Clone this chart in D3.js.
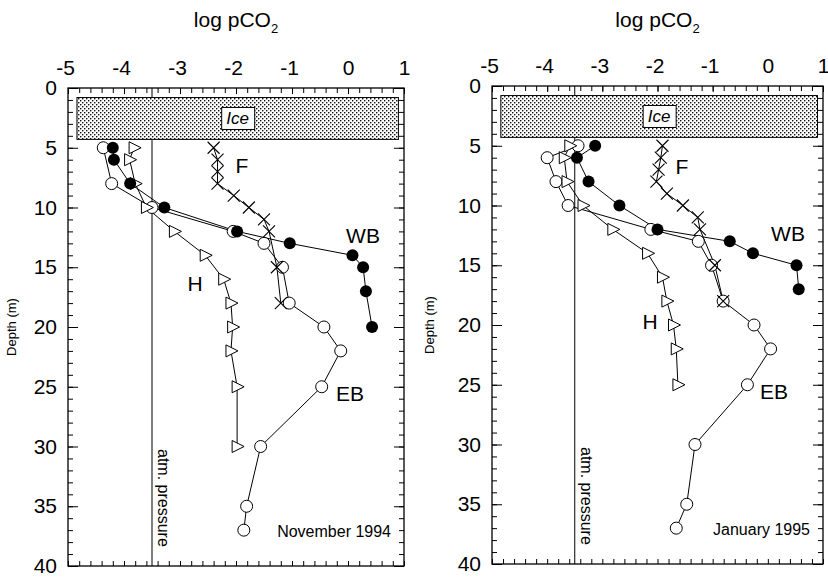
<!DOCTYPE html>
<html>
<head>
<meta charset="utf-8">
<script src="https://cdn.jsdelivr.net/npm/d3@7"></script>
<style>
  body { margin: 0; background: #fff; }
  svg { font-family: "Liberation Sans", Arial, sans-serif; }
</style>
</head>
<body>
<svg id="chart" width="828" height="577"></svg>
<script>
// November 1994
const novEBdepth = [5, 8, 10, 12, 13, 15, 18, 20, 22, 25, 30, 35, 37]
const novEBlog = [-4.37, -4.22, -3.50, -2.05, -1.50, -1.17, -1.05, -0.43, -0.13, -0.47, -1.56, -1.81, -1.86]
const novWBdepth = [5, 6, 8, 10, 12, 13, 14, 15, 17, 20]
const novWBlog = [-4.20, -4.18, -3.89, -3.28, -1.98, -1.04, 0.08, 0.27, 0.32, 0.43]
const novHdepth = [5, 6, 8, 10, 12, 14, 16, 18, 20, 22, 25, 30]
const novHlog = [-3.82, -3.90, -3.80, -3.60, -3.10, -2.55, -2.22, -2.09, -2.06, -2.09, -1.98, -1.98]
const novFdepth = [5, 6, 7, 8, 9, 10, 11, 12, 15, 18]
const novFlog = [-2.40, -2.33, -2.33, -2.33, -2.04, -1.77, -1.50, -1.41, -1.27, -1.20]

// January 1995
const janEBdepth = [5, 6, 8, 10, 12, 13, 15, 18, 20, 22, 25, 30, 35, 37]
const janEBlog = [-3.44, -4.00, -3.84, -3.62, -2.12, -1.26, -1.02, -0.81, -0.25, 0.05, -0.37, -1.32, -1.47, -1.66]
const janWBdepth = [5, 6, 8, 10, 12, 13, 14, 15, 17]
const janWBlog = [-3.13, -3.46, -3.25, -2.69, -2.00, -0.69, -0.27, 0.52, 0.56]
const janHdepth = [5, 6, 8, 10, 12, 14, 16, 18, 20, 22, 25]
const janHlog = [-3.59, -3.69, -3.64, -3.35, -2.81, -2.18, -1.91, -1.83, -1.71, -1.66, -1.63]
const janFdepth = [5, 6, 7, 8, 9, 10, 11, 12, 15, 18]
const janFlog = [-1.91, -1.94, -1.98, -2.02, -1.83, -1.54, -1.27, -1.23, -0.96, -0.81]

const xTicks = [-5, -4, -3, -2, -1, 0, 1]
const yTicks = [0, 5, 10, 15, 20, 25, 30, 35, 40]
const atmLog = -3.5
const iceTop = 0.8, iceBottom = 4.3, iceLeft = -4.84, iceRight = 0.9

const svg = d3.select('#chart')

// stipple for the ice layer
const pat = svg.append('defs').append('pattern')
    .attr('id', 'ice')
    .attr('patternUnits', 'userSpaceOnUse')
    .attr('width', 4)
    .attr('height', 4)
pat.append('rect').attr('width', 4).attr('height', 4).attr('fill', '#fff')
pat.append('rect').attr('x', 0).attr('y', 0).attr('width', 1.4).attr('height', 1.4).attr('fill', '#111')
pat.append('rect').attr('x', 2).attr('y', 2).attr('width', 1.4).attr('height', 1.4).attr('fill', '#111')

const zip = (d, v) => d.map((dd, i) => ({depth: dd, val: v[i]}))

const drawPanel = (p) => {
    const x = d3.scaleLinear().domain([-5, 1]).range([p.left, p.right])
    const y = d3.scaleLinear().domain([0, 40]).range([p.top, p.bottom])
    const g = svg.append('g')

    // atm. pressure line
    g.append('line')
        .attr('x1', x(atmLog)).attr('x2', x(atmLog))
        .attr('y1', y(0)).attr('y2', y(40))
        .attr('stroke', '#000').attr('stroke-width', 1)

    // ice
    g.append('rect')
        .attr('x', x(iceLeft)).attr('y', y(iceTop))
        .attr('width', x(iceRight) - x(iceLeft))
        .attr('height', y(iceBottom) - y(iceTop))
        .attr('fill', 'url(#ice)')
        .attr('stroke', '#000').attr('stroke-width', 1)
    const ix = (x(iceLeft) + x(iceRight)) / 2
    g.append('rect')
        .attr('x', ix - 16).attr('y', y(2.55) - 11)
        .attr('width', 33).attr('height', 22)
        .attr('fill', '#fff').attr('stroke', '#000').attr('stroke-width', 1)
    g.append('text')
        .attr('x', ix).attr('y', y(2.55) + 6)
        .attr('text-anchor', 'middle')
        .attr('font-size', '17px')
        .attr('font-style', 'italic')
        .text('Ice')

    // frame + axes (ticks inward)
    g.append('rect')
        .attr('x', p.left).attr('y', p.top)
        .attr('width', p.right - p.left).attr('height', p.bottom - p.top)
        .attr('fill', 'none').attr('stroke', '#000').attr('stroke-width', 1.3)

    const minorX = d3.range(-5, 1.001, 0.2)
    const minorY = d3.range(0, 40.001, 1)

    const topMinor = g.append('g').attr('transform', `translate(0,${p.top})`)
        .call(d3.axisTop(x).tickValues(minorX).tickSize(-5).tickFormat(''))
    const topMajor = g.append('g').attr('transform', `translate(0,${p.top})`)
        .call(d3.axisTop(x).tickValues(xTicks).tickSize(-6).tickFormat(d => String(d)))
    const botMinor = g.append('g').attr('transform', `translate(0,${p.bottom})`)
        .call(d3.axisBottom(x).tickValues(minorX).tickSize(-5).tickFormat(''))
    const leftMinor = g.append('g').attr('transform', `translate(${p.left},0)`)
        .call(d3.axisLeft(y).tickValues(minorY).tickSize(-5).tickFormat(''))
    const leftMajor = g.append('g').attr('transform', `translate(${p.left},0)`)
        .call(d3.axisLeft(y).tickValues(yTicks).tickSize(-10).tickFormat(d => String(d)))
    const rightMinor = g.append('g').attr('transform', `translate(${p.right},0)`)
        .call(d3.axisRight(y).tickValues(minorY).tickSize(-5).tickFormat(''))
    const rightMajor = g.append('g').attr('transform', `translate(${p.right},0)`)
        .call(d3.axisRight(y).tickValues(yTicks).tickSize(-10).tickFormat(''))

    ;[topMinor, topMajor, botMinor, leftMinor, leftMajor, rightMinor, rightMajor].forEach(a => {
        a.select('.domain').remove()
        a.selectAll('line').attr('stroke', '#000').attr('stroke-width', 1)
        a.selectAll('text')
            .attr('fill', '#000')
            .attr('font-size', '21px')
            .attr('font-family', '"Liberation Sans", Arial, sans-serif')
    })
    topMajor.selectAll('text').attr('dy', '0').attr('y', -13)
        .attr('dx', d => d < 0 ? -3 : 0)
    leftMajor.selectAll('text').attr('x', -11)

    // axis titles
    const title = g.append('text')
        .attr('x', (p.left + p.right) / 2)
        .attr('y', 27)
        .attr('text-anchor', 'middle')
        .attr('font-size', '21px')
    title.append('tspan').text(p.titleText)
    title.append('tspan').attr('dy', 6).attr('font-size', '13px').text('2')

    g.append('text')
        .attr('transform', `translate(${p.ylabX},${(p.top + p.bottom) / 2}) rotate(-90)`)
        .attr('text-anchor', 'middle')
        .attr('font-size', '13px')
        .text('Depth (m)')

    // atm. pressure label
    g.append('text')
        .attr('transform', `translate(${x(atmLog) + 6},${y(34.3)}) rotate(90)`)
        .attr('text-anchor', 'middle')
        .attr('font-size', '16px')
        .text('atm. pressure')

    // month label
    g.append('text')
        .attr('x', p.right - 13).attr('y', y(37.6))
        .attr('text-anchor', 'end')
        .attr('font-size', '16px')
        .text(p.month)

    const line = d3.line().x(d => x(d.val)).y(d => y(d.depth))
    const series = p.series
    Object.keys(series).forEach(k => {
        g.append('path')
            .datum(series[k])
            .attr('d', line)
            .attr('fill', 'none')
            .attr('stroke', '#000')
            .attr('stroke-width', 1)
    })

    // EB open circles
    g.selectAll('.eb').data(series.EB).enter().append('circle')
        .attr('cx', d => x(d.val)).attr('cy', d => y(d.depth)).attr('r', 6)
        .attr('fill', '#fff').attr('stroke', '#000').attr('stroke-width', 1)
    // H open triangles pointing right
    g.selectAll('.h').data(series.H).enter().append('path')
        .attr('transform', d => `translate(${x(d.val)},${y(d.depth)})`)
        .attr('d', 'M-5,-6L7,0L-5,6Z')
        .attr('fill', '#fff').attr('stroke', '#000').attr('stroke-width', 1)
    // WB filled circles
    g.selectAll('.wb').data(series.WB).enter().append('circle')
        .attr('cx', d => x(d.val)).attr('cy', d => y(d.depth)).attr('r', 6)
        .attr('fill', '#000')
    // F crosses
    g.selectAll('.f').data(series.F).enter().append('path')
        .attr('transform', d => `translate(${x(d.val)},${y(d.depth)})`)
        .attr('d', 'M-6,-6L6,6M-6,6L6,-6')
        .attr('stroke', '#000').attr('stroke-width', 1.1)

    // series names
    p.names.forEach(n => {
        g.append('text')
            .attr('x', n.x).attr('y', n.y)
            .attr('text-anchor', 'middle')
            .attr('font-size', '21px')
            .text(n.t)
    })
}

drawPanel({
    left: 68, right: 404, top: 88, bottom: 566,
    titleText: 'log  pCO', ylabX: 16, month: 'November 1994',
    series: {
        EB: zip(novEBdepth, novEBlog),
        WB: zip(novWBdepth, novWBlog),
        H: zip(novHdepth, novHlog),
        F: zip(novFdepth, novFlog)
    },
    names: [{t: 'F', x: 242, y: 173}, {t: 'WB', x: 363, y: 243}, {t: 'H', x: 195, y: 291}, {t: 'EB', x: 350, y: 401}]
})

drawPanel({
    left: 492, right: 823, top: 86, bottom: 564,
    titleText: 'log pCO', ylabX: 434, month: 'January 1995',
    series: {
        EB: zip(janEBdepth, janEBlog),
        WB: zip(janWBdepth, janWBlog),
        H: zip(janHdepth, janHlog),
        F: zip(janFdepth, janFlog)
    },
    names: [{t: 'F', x: 682, y: 174}, {t: 'WB', x: 788, y: 241}, {t: 'H', x: 650, y: 329}, {t: 'EB', x: 774, y: 399}]
})
</script>
</body>
</html>
